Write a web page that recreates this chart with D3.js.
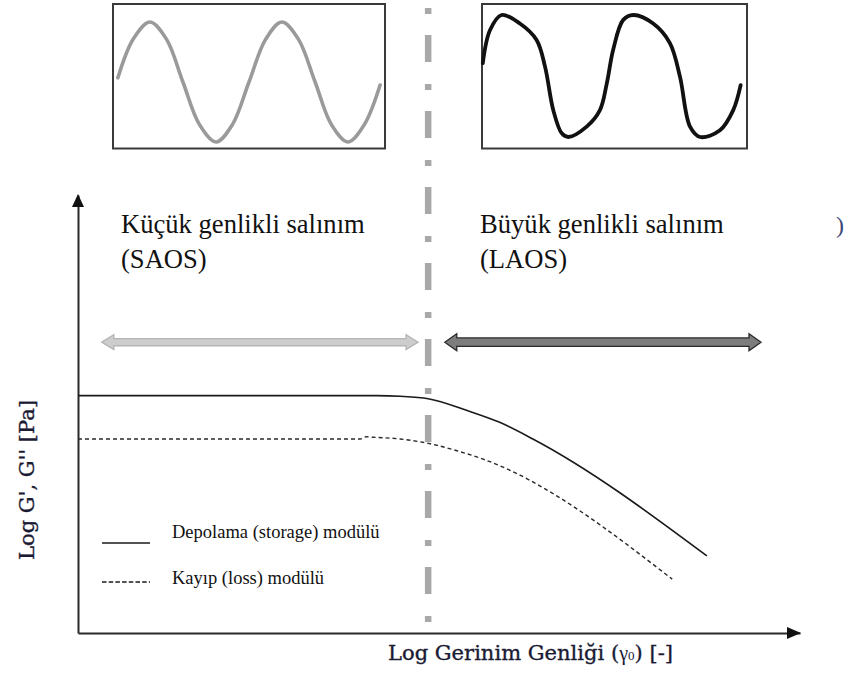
<!DOCTYPE html>
<html>
<head>
<meta charset="utf-8">
<script src="https://cdn.jsdelivr.net/npm/d3@7"></script>
<style>
  html, body { margin: 0; padding: 0; background: #fff; }
  svg { display: block; }
</style>
</head>
<body>
<svg id="chart" width="845" height="675"></svg>
<script>
// Storage modulus G' vs log strain amplitude (arbitrary log units)
const storageStrain  = [0, 41.4, 44.6, 48.5, 53.9, 58.4, 63.0, 87.1];
const storageModulus = [54.2, 54.2, 54.05, 53.5, 50.8, 48.1, 44.3, 17.6];

// Loss modulus G'' vs log strain amplitude
const lossStrain  = [0, 39.1, 39.9, 40.9, 44.6, 48.8, 52.5, 56.1, 82.3];
const lossModulus = [44.3, 44.3, 44.8, 44.7, 44.3, 43.2, 41.6, 39.7, 12.3];

// Boundary between the linear and non-linear regimes
const criticalStrain = 48.5;

// Oscillation regimes shown as double-headed arrows
const regionNames  = ["SAOS", "LAOS"];
const regionStart  = [3.3, 50.8];
const regionEnd    = [47.1, 94.6];
const regionLevel  = [66.4, 66.4];
const regionTitles = ["Küçük genlikli salınım", "Büyük genlikli salınım"];

// Stress response waveforms (time, normalised stress)
const linearWaveT = [1.8, 7.5, 13.6, 19.7, 25.7, 31.8, 37.9, 43.9, 50.0, 56.1, 62.1, 68.2, 74.3, 80.3, 86.4, 92.4, 98.2];
const linearWaveV = [0.07, 0.72, 1, 0.71, 0, -0.71, -1, -0.71, 0, 0.71, 1, 0.71, 0, -0.71, -1, -0.71, -0.05];

const nonlinearWaveT = [0.3, 3.0, 7.4, 14.3, 20.6, 23.8, 26.9, 30.1, 32.6, 39.5, 44.5, 47.1, 49.5, 53.3, 57.1, 64.6, 70.9, 74.7, 78.5, 82.3, 89.8, 94.8, 97.6];
const nonlinearWaveV = [0.21, 0.75, 1.0, 0.86, 0.59, 0.15, -0.56, -0.94, -1.0, -0.83, -0.56, -0.12, 0.43, 0.92, 1.0, 0.86, 0.54, -0.01, -0.83, -1.0, -0.89, -0.56, -0.15];

// Text
const xTitleMain = "Log Gerinim Genliği (";
const xTitleSym = "γ";
const xTitleSub = "0";
const xTitleEnd = ") [-]";
const yTitle = "Log G', G'' [Pa]";
const legendLabels = ["Depolama (storage) modülü", "Kayıp (loss) modülü"];

const svg = d3.select("#chart");
const serif = "'Liberation Serif', 'Times New Roman', serif";
const labelFont = "'DejaVu Serif', serif";

// ---- main plot scales ----
const x = d3.scaleLinear().domain([0, 100]).range([78, 800]);
const y = d3.scaleLinear().domain([0, 100]).range([633, 195]);

// ---- top waveform panels ----
function wavePanel(box, ts, vs, color, width) {
  const px = d3.scaleLinear().domain([0, 100]).range([box.x0, box.x1]);
  const py = d3.scaleLinear().domain([-1, 1]).range([box.yb, box.yt]);
  const g = svg.append("g");
  g.append("rect")
    .attr("x", box.x0).attr("y", 4)
    .attr("width", box.x1 - box.x0).attr("height", 144.5)
    .attr("fill", "#fff").attr("stroke", "#3a3a3a").attr("stroke-width", 2);
  const pts = ts.map((t, i) => [t, vs[i]]);
  g.append("path")
    .attr("d", d3.line().x(d => px(d[0])).y(d => py(d[1])).curve(d3.curveCatmullRom.alpha(0.5))(pts))
    .attr("fill", "none").attr("stroke", color).attr("stroke-width", width)
    .attr("stroke-linecap", "round").attr("stroke-linejoin", "round");
}
wavePanel({x0: 113, x1: 385, yt: 22, yb: 142}, linearWaveT, linearWaveV, "#9a9a9a", 3.6);
wavePanel({x0: 482, x1: 747, yt: 15, yb: 137}, nonlinearWaveT, nonlinearWaveV, "#111", 3.8);

// ---- critical strain divider (dash-dot) ----
svg.append("line")
  .attr("x1", x(criticalStrain)).attr("x2", x(criticalStrain))
  .attr("y1", 8).attr("y2", 625)
  .attr("stroke", "#a8a8a8").attr("stroke-width", 6.5)
  .attr("stroke-dasharray", "6,21,27,22");

// ---- regime arrows ----
function blockArrow(xa, xb, yc, headLen, headHalf, shaftHalf) {
  return `M${xa},${yc} L${xa + headLen},${yc - headHalf} L${xa + headLen},${yc - shaftHalf}` +
    ` L${xb - headLen},${yc - shaftHalf} L${xb - headLen},${yc - headHalf} L${xb},${yc}` +
    ` L${xb - headLen},${yc + headHalf} L${xb - headLen},${yc + shaftHalf}` +
    ` L${xa + headLen},${yc + shaftHalf} L${xa + headLen},${yc + headHalf} Z`;
}
const arrowStyles = [
  {fill: "#cdcdcd", stroke: "#b5b5b5", head: 7.5, shaft: 3.6},
  {fill: "#7d7d7d", stroke: "#2a2a2a", head: 8.5, shaft: 4.2}
];
regionNames.forEach((name, i) => {
  const st = arrowStyles[i];
  svg.append("path")
    .attr("d", blockArrow(x(regionStart[i]), x(regionEnd[i]), y(regionLevel[i]), 12, st.head, st.shaft))
    .attr("fill", st.fill).attr("stroke", st.stroke).attr("stroke-width", 1.3)
    .attr("stroke-linejoin", "miter");
});

// ---- regime titles ----
const titleX = [121, 480];
regionNames.forEach((name, i) => {
  const t = svg.append("text")
    .attr("font-family", serif).attr("font-size", 26.6).attr("fill", "#111");
  t.append("tspan").attr("x", titleX[i]).attr("y", 233).text(regionTitles[i]);
  t.append("tspan").attr("x", titleX[i]).attr("y", 268).text("(" + name + ")");
});
svg.append("text")
  .attr("x", 836).attr("y", 233)
  .attr("font-family", serif).attr("font-size", 24).attr("fill", "#3b4a78")
  .text(")");

// ---- axes ----
const yAxisG = svg.append("g").attr("transform", `translate(${x(0)},0)`)
  .call(d3.axisLeft(y).ticks(0).tickSizeOuter(0));
const xAxisG = svg.append("g").attr("transform", `translate(0,${y(0)})`)
  .call(d3.axisBottom(x).ticks(0).tickSizeOuter(0));
[yAxisG, xAxisG].forEach(g => g.select(".domain").attr("stroke", "#2a2a2a").attr("stroke-width", 2));

svg.append("path")
  .attr("d", `M${x(0)},${y(100) - 1} L${x(0) - 6},${y(100) + 12} L${x(0) + 6},${y(100) + 12} Z`)
  .attr("fill", "#111");
svg.append("path")
  .attr("d", `M${x(100) + 1},${y(0)} L${x(100) - 13},${y(0) - 6} L${x(100) - 13},${y(0) + 6} Z`)
  .attr("fill", "#111");

// ---- modulus curves ----
const line = d3.line().x(d => x(d[0])).y(d => y(d[1])).curve(d3.curveMonotoneX);
svg.append("path")
  .attr("d", line(storageStrain.map((s, i) => [s, storageModulus[i]])))
  .attr("fill", "none").attr("stroke", "#1a1a1a").attr("stroke-width", 1.6);
svg.append("path")
  .attr("d", line(lossStrain.map((s, i) => [s, lossModulus[i]])))
  .attr("fill", "none").attr("stroke", "#2a2a2a").attr("stroke-width", 1.4)
  .attr("stroke-dasharray", "4,3");

// ---- legend ----
const legendY = [543, 582];
const legendTextY = [538, 584];
const legendDash = [null, "4.5,2.2"];
legendLabels.forEach((lab, i) => {
  svg.append("line")
    .attr("x1", 102).attr("x2", 150).attr("y1", legendY[i]).attr("y2", legendY[i])
    .attr("stroke", "#1a1a1a").attr("stroke-width", 1.5)
    .attr("stroke-dasharray", legendDash[i]);
  svg.append("text")
    .attr("x", 172).attr("y", legendTextY[i])
    .attr("font-family", serif).attr("font-size", 18.5).attr("fill", "#111")
    .text(lab);
});

// ---- axis titles ----
const xt = svg.append("text")
  .attr("x", 388).attr("y", 660)
  .attr("textLength", 285).attr("lengthAdjust", "spacingAndGlyphs")
  .attr("font-family", labelFont).attr("font-size", 21).attr("fill", "#1a1a33")
  .attr("stroke", "#1a1a33").attr("stroke-width", 0.35);
xt.append("tspan").text(xTitleMain);
xt.append("tspan").attr("font-family", serif).attr("font-size", 20).attr("stroke-width", 0).text(xTitleSym);
xt.append("tspan").attr("font-family", serif).attr("font-size", 13).attr("stroke-width", 0).text(xTitleSub);
xt.append("tspan").text(xTitleEnd);

svg.append("text")
  .attr("transform", "translate(34,480) rotate(-90)")
  .attr("text-anchor", "middle")
  .attr("textLength", 160).attr("lengthAdjust", "spacingAndGlyphs")
  .attr("font-family", labelFont).attr("font-size", 20).attr("fill", "#1a1a33")
  .attr("stroke", "#1a1a33").attr("stroke-width", 0.35)
  .text(yTitle);
</script>
</body>
</html>
